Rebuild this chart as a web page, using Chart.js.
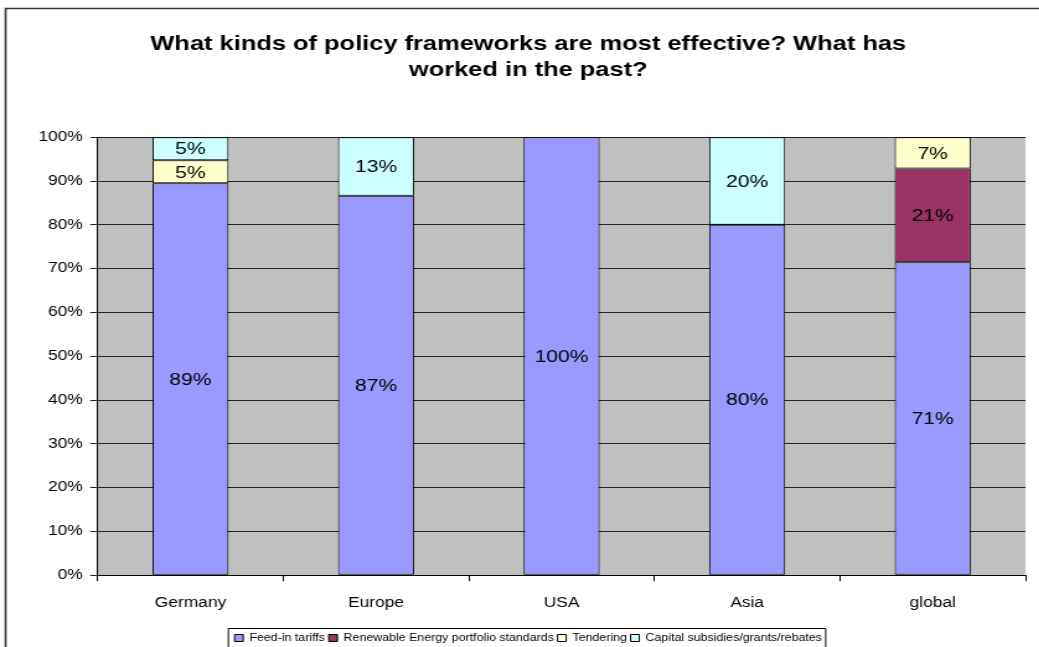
<!DOCTYPE html>
<html>
<head>
<meta charset="utf-8">
<script src="https://cdn.jsdelivr.net/npm/chart.js@4"></script>
<style>
    html, body { margin: 0; padding: 0; background: #fff; overflow: hidden; }
    #frame { width: 1039px; height: 647px; overflow: hidden; }
    /* the reference is an Excel chart stretched sideways, so we draw narrow and widen it */
    #wrap { width: 838px; height: 653px; transform: scaleX(1.24); transform-origin: 0 0; }
</style>
</head>
<body>
<div id="frame"><div id="wrap"><canvas id="policyChart" width="838" height="653"></canvas></div></div>
<script>
    const regions = ['Germany', 'Europe', 'USA', 'Asia', 'global'];
    const feedIn = [89.47, 86.67, 100, 80, 71.43];
    const rps = [0, 0, 0, 0, 21.43];
    const tendering = [5.26, 0, 0, 0, 7.14];
    const capitalSubsidies = [5.26, 13.33, 0, 20, 0];

    const FONT = '"Liberation Sans", Arial, sans-serif';

    // % labels in the segments, outer frame, box round the legend
    const excelLook = {
        id: 'excelLook',
        afterDatasetsDraw(chart) {
            const ctx = chart.ctx;
            ctx.save();
            ctx.font = '17px ' + FONT;
            ctx.fillStyle = '#000';
            ctx.textAlign = 'center';
            ctx.textBaseline = 'middle';
            chart.data.datasets.forEach((ds, i) => {
                const meta = chart.getDatasetMeta(i);
                meta.data.forEach((bar, j) => {
                    const v = ds.data[j];
                    if (!v) return;
                    ctx.fillText(Math.round(v) + '%', bar.x, (bar.y + bar.base) / 2 + 1);
                });
            });
            ctx.restore();
        },
        afterDraw(chart) {
            const ctx = chart.ctx;
            ctx.save();
            ctx.strokeStyle = '#333';
            ctx.lineWidth = 1.6;
            ctx.beginPath();
            ctx.moveTo(4.5, chart.height);
            ctx.lineTo(4.5, 8.5);
            ctx.lineTo(chart.width, 8.5);
            ctx.stroke();

            const boxes = chart.legend.legendHitBoxes;
            const left = Math.min(...boxes.map(b => b.left)) - 5;
            const right = Math.max(...boxes.map(b => b.left + b.width)) + 3;
            const top = Math.min(...boxes.map(b => b.top)) - 5;
            ctx.strokeStyle = '#000';
            ctx.lineWidth = 1;
            ctx.beginPath();
            ctx.moveTo(left, chart.height);
            ctx.lineTo(left, top + 0.5);
            ctx.lineTo(right, top + 0.5);
            ctx.lineTo(right, chart.height);
            ctx.stroke();
            ctx.restore();
        }
    };

    const plotBg = {
        id: 'plotBg',
        beforeDraw(chart) {
            const a = chart.chartArea;
            chart.ctx.save();
            chart.ctx.fillStyle = '#C0C0C0';
            chart.ctx.fillRect(a.left, a.top, a.right - a.left, a.bottom - a.top);
            chart.ctx.restore();
        }
    };

    const ctx = document.getElementById('policyChart').getContext('2d');
    new Chart(ctx, {
        type: 'bar',
        data: {
            labels: regions,
            datasets: [
                { label: 'Feed-in tariffs', data: feedIn, backgroundColor: '#9999FF' },
                { label: 'Renewable Energy portfolio standards', data: rps, backgroundColor: '#993366' },
                { label: 'Tendering', data: tendering, backgroundColor: '#FFFFCC' },
                { label: 'Capital subsidies/grants/rebates', data: capitalSubsidies, backgroundColor: '#CCFFFF' }
            ].map(d => Object.assign(d, {
                borderColor: '#000',
                borderWidth: 1,
                borderSkipped: false,
                categoryPercentage: 1,
                barPercentage: 0.41
            }))
        },
        options: {
            responsive: false,
            animation: false,
            devicePixelRatio: 1,
            layout: { padding: { left: 25, right: 11, top: 0, bottom: 0 } },
            plugins: {
                title: {
                    display: true,
                    text: ['What kinds of policy frameworks are most effective? What has', 'worked in the past?'],
                    color: '#000',
                    font: { family: FONT, size: 20.5, weight: 'bold', lineHeight: 1.25 },
                    padding: { top: 32, bottom: 54 }
                },
                legend: {
                    position: 'bottom',
                    labels: {
                        color: '#000',
                        font: { family: FONT, size: 10 },
                        boxWidth: 7,
                        boxHeight: 7,
                        padding: 3
                    }
                },
                tooltip: { enabled: false }
            },
            scales: {
                x: {
                    stacked: true,
                    grid: { display: true, drawOnChartArea: false, offset: true, color: '#000', tickLength: 6 },
                    border: { color: '#000' },
                    ticks: { color: '#000', padding: 14, font: { family: FONT, size: 14 } },
                    afterFit(scale) { scale.height += 4; }
                },
                y: {
                    stacked: true,
                    min: 0,
                    max: 100,
                    grid: { color: '#222', tickLength: 6 },
                    border: { color: '#000' },
                    ticks: {
                        stepSize: 10,
                        color: '#000',
                        padding: 6,
                        font: { family: FONT, size: 14 },
                        callback: v => v + '%'
                    }
                }
            }
        },
        plugins: [plotBg, excelLook]
    });
</script>
</body>
</html>
